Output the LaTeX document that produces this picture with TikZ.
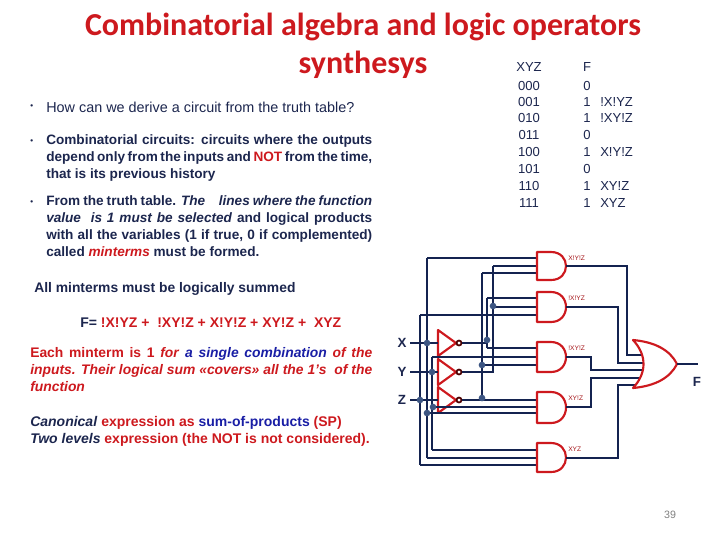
\documentclass[tikz,border=0pt]{standalone}
\usepackage{fontspec}
\setmainfont{Liberation Sans}
\newfontfamily\titlefont{Carlito}
\definecolor{navy}{RGB}{28,38,78}
\definecolor{rd}{RGB}{205,25,30}
\definecolor{bl}{RGB}{25,30,165}
\definecolor{wire}{RGB}{20,35,80}
\definecolor{dotc}{RGB}{60,85,130}
\begin{document}
\hyphenpenalty=10000
\begin{tikzpicture}[x=0.75pt,y=-0.75pt,
  txt/.style={anchor=west,inner sep=0,font=\bfseries\fontsize{10.4pt}{12.75pt}\selectfont,text=navy},
  para/.style={anchor=north west,inner sep=0,text width=244.5pt,align=justify,font=\bfseries\fontsize{10.2pt}{12.75pt}\selectfont,text=navy},
  tt/.style={inner sep=0,font=\fontsize{9.8pt}{12pt}\selectfont,text=navy},
  gate/.style={draw=rd,line width=1.6pt,line join=round},
  w/.style={draw=wire,line width=1.5pt},
  jd/.style={circle,fill=dotc,inner sep=0,minimum size=5pt},
  glab/.style={inner sep=0,anchor=west,font=\fontsize{5pt}{6pt}\selectfont,text=rd!80!black}]
\useasboundingbox (0,0) rectangle (720,540);
% title
\node[inner sep=0,text=rd,font=\titlefont\bfseries\fontsize{24pt}{28pt}\selectfont] (t1) at (363,27) {Combinatorial algebra and logic operators};
\node[inner sep=0,text=rd,font=\titlefont\bfseries\fontsize{24pt}{28pt}\selectfont] (t2) at (363,65) {synthesys};
% truth table
\foreach \a/\f/\y [count=\i] in {XYZ/F/67,000/0/86,001/1/102,010/1/118,011/0/135,100/1/152,101/0/169,110/1/186,111/1/203}{
  \node[tt] (r\i) at (529,\y) {\a};
  \node[tt] (f\i) at (587,\y) {\f};}
\node[tt,anchor=west] (m1) at (600,102) {!X!YZ};
\node[tt,anchor=west] (m2) at (600,118) {!XY!Z};
\node[tt,anchor=west] (m3) at (600,152) {X!Y!Z};
\node[tt,anchor=west] (m4) at (600,186) {XY!Z};
\node[tt,anchor=west] (m5) at (600,203) {XYZ};
% bullets
\node[txt] (b1) at (30,107) {\fontsize{6pt}{6pt}\selectfont\textbullet};
\node[txt,font=\fontsize{10.8pt}{12pt}\selectfont] (p1) at (46,107) {How can we derive a circuit from the truth table?};
\node[txt] (b2) at (30,142) {\fontsize{6pt}{6pt}\selectfont\textbullet};
\node[para] (p2) at (46,134.5) {Combinatorial circuits: circuits where the outputs depend only from the inputs and \textcolor{rd}{NOT} from the time, that is its previous history};
\node[txt] (b3) at (30,203) {\fontsize{6pt}{6pt}\selectfont\textbullet};
\node[para] (p3) at (46,195.5) {From the truth table. \textit{The\quad lines where the function value\ \ is 1 must be selected} and logical products with all the variables (1 if true, 0 if complemented) called \textcolor{rd}{\itshape minterms} must be formed.};
\node[txt] (p4) at (34,289) {All minterms must be logically summed};
\node[txt,font=\bfseries\fontsize{10.5pt}{12pt}\selectfont] (p5) at (80,323) {F= \textcolor{rd}{!X!YZ +\ \ !XY!Z + X!Y!Z + XY!Z +\ \ XYZ}};
\node[para,font=\bfseries\fontsize{10.4pt}{12.75pt}\selectfont,text width=256.5pt] (p6) at (30,347) {\textcolor{rd}{Each minterm is 1 \textit{for} \textcolor{bl}{\textit{a single combination}} \textit{of the inputs. Their logical sum «covers» all the 1's\ \ of the function}}};
\node[txt,font=\bfseries\fontsize{10.5pt}{12pt}\selectfont] (p7) at (30,423) {\textit{Canonical} \textcolor{rd}{expression as} \textcolor{bl}{sum-of-products} \textcolor{rd}{(SP)}};
\node[txt,font=\bfseries\fontsize{10.5pt}{12pt}\selectfont] (p8) at (30,440) {\textit{Two levels} \textcolor{rd}{expression (the NOT is not considered).}};
\node[inner sep=0,text=gray,font=\fontsize{8pt}{9pt}\selectfont] (pg) at (670,515) {39};
% ---- circuit
\node[inner sep=0,text=navy,font=\bfseries\fontsize{10pt}{12pt}\selectfont] (X) at (402,343) {X};
\node[inner sep=0,text=navy,font=\bfseries\fontsize{10pt}{12pt}\selectfont] (Y) at (402,372) {Y};
\node[inner sep=0,text=navy,font=\bfseries\fontsize{10pt}{12pt}\selectfont] (Z) at (402,400) {Z};
\node[inner sep=0,text=navy,font=\bfseries\fontsize{10pt}{12pt}\selectfont] (F) at (697,382) {F};
% inverters
\foreach \y/\n in {343/ix,372/iy,400/iz}{
  \draw[gate] (438,\y-13) -- (456,\y) -- (438,\y+13) -- cycle;
  \draw[draw=black!70!red,line width=1.3pt] (459,\y) circle (2.5);
  \coordinate (\n) at (461.5,\y);}
% input lines
\draw[w] (410,343) -- (438,343);
\draw[w] (410,372) -- (438,372);
\draw[w] (410,400) -- (438,400);
% buses
\draw[w] (427,258) -- (427,458);
\draw[w] (432,357) -- (432,450);
\draw[w] (420,315) -- (420,465);
\draw[w] (ix) -- (487,343); \draw[w] (487,298) -- (487,348);
\draw[w] (iy) -- (493,372) -- (493,266);
\draw[w] (iz) -- (537,400);
\draw[w] (482,273) -- (482,400);
% gate inputs
\draw[w] (427,258) -- (537,258);
\draw[w] (493,266) -- (537,266);
\draw[w] (482,273) -- (537,273);
\draw[w] (487,298) -- (537,298);
\draw[w] (493,307) -- (537,307);
\draw[w] (420,315) -- (537,315);
\draw[w] (487,348) -- (537,348);
\draw[w] (432,357) -- (537,357);
\draw[w] (482,365) -- (537,365);
\draw[w] (432,407) -- (537,407);
\draw[w] (427,413) -- (537,413);
\draw[w] (432,450) -- (537,450);
\draw[w] (427,458) -- (537,458);
\draw[w] (420,465) -- (537,465);
% junction dots
\foreach \p in {(427,343),(432,372),(420,400),(433,407),(427,413),(487,340),(493,306),(482,365),(482,398)}
  \node[jd] at \p {};
% AND gates
\foreach \t/\b/\l/\n in {252/280/X!Y!Z/g1,292/322/!X!YZ/g2,342/372/!XY!Z/g3,392/423/XY!Z/g4,443/472/XYZ/g5}{
  \draw[gate,fill=white] (537,\t) -- (551,\t) .. controls (571,\t) and (571,\b) .. (551,\b) -- (537,\b) -- cycle;
  \node[glab] (\n) at (568,\t+6) {\l};}
% outputs to OR
\draw[w] (566,266) -- (627,266) -- (627,355) -- (642,355);
\draw[w] (566,307) -- (618,307) -- (618,363) -- (644,363);
\draw[w] (566,357) -- (591,357) -- (591,370) -- (644,370);
\draw[w] (566,407) -- (591,407) -- (591,378) -- (643,378);
\draw[w] (566,458) -- (618,458) -- (618,385) -- (640,385);
% OR gate
\draw[gate,fill=white] (633,340) .. controls (647,355) and (647,373) .. (633,388)
  .. controls (655,386) and (670,378) .. (677,364)
  .. controls (670,350) and (655,342) .. (633,340) -- cycle;
\draw[w] (677,364) -- (698,364);
\end{tikzpicture}
\end{document}
